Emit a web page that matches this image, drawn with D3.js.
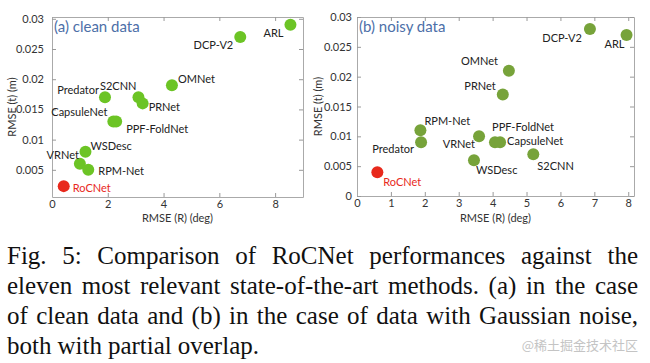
<!DOCTYPE html>
<html>
<head>
<meta charset="utf-8">
<script src="https://cdn.jsdelivr.net/npm/d3@7"></script>
<style>
  body { margin: 0; background: #fff; }
  svg { display: block; }
  .tick text { font-family: Lato, "Open Sans", sans-serif; font-size: 11px; fill: #333; }
  .tick line { stroke: #999; }
  .domain { stroke: #aaa; }
</style>
</head>
<body>
<div id="fig"></div>
<script>
// (a) clean data
var namesA = ["ARL", "DCP-V2", "OMNet", "Predator", "S2CNN", "PRNet", "CapsuleNet", "PPF-FoldNet", "WSDesc", "VRNet", "RPM-Net", "RoCNet"];
var rotA   = [8.55, 6.75, 4.3, 1.9, 3.1, 3.25, 2.2, 2.3, 1.2, 1.0, 1.3, 0.42];
var transA = [0.029, 0.027, 0.019, 0.017, 0.017, 0.016, 0.013, 0.013, 0.008, 0.006, 0.005, 0.0023];

// (b) noisy data
var namesB = ["DCP-V2", "ARL", "OMNet", "PRNet", "RPM-Net", "Predator", "PPF-FoldNet", "VRNet", "CapsuleNet", "WSDesc", "S2CNN", "RoCNet"];
var rotB   = [6.87, 7.95, 4.48, 4.3, 1.87, 1.89, 3.6, 4.07, 4.22, 3.45, 5.2, 0.6];
var transB = [0.028, 0.027, 0.021, 0.017, 0.011, 0.009, 0.01, 0.009, 0.009, 0.006, 0.007, 0.004];

// tick labels
var xTicksA = [0, 2, 4, 6, 8];
var yTicksA = [0.005, 0.01, 0.015, 0.02, 0.025, 0.03];
var xTicksB = [0, 1, 2, 3, 4, 5, 6, 7, 8];
var yTicksB = [0, 0.005, 0.01, 0.015, 0.02, 0.025, 0.03];

var caption = [
  "Fig. 5: Comparison of RoCNet performances against the",
  "eleven most relevant state-of-the-art methods. (a) in the case",
  "of clean data and (b) in the case of data with Gaussian noise,",
  "both with partial overlap."
];

// label placement [dx, dy, anchor] relative to each point
var labA = [[-7,12,"end"],[-7,12,"end"],[6,-2,"start"],[-6,-3,"end"],[-2,-7,"end"],[6,8,"start"],
            [-6,-5,"end"],[10,12,"start"],[5,-2,"start"],[-1,-5,"end"],[10,5,"start"],[9,6,"start"]];
var labB = [[-8,13,"end"],[-2,13,"end"],[-11,-6,"end"],[-7,-5,"end"],[4,-5,"start"],[-7,11,"end"],
            [13,-5,"start"],[-20,6,"end"],[7,3,"start"],[2,14,"start"],[4,16,"start"],[6,14,"start"]];

var svg = d3.select("#fig").append("svg")
  .attr("width", 650).attr("height", 363);

function panel(opt) {
  var x = d3.scaleLinear().domain(opt.xd).range([opt.x0, opt.x1]);
  var y = d3.scaleLinear().domain(opt.yd).range([opt.y1, opt.y0]);
  var g = svg.append("g");

  // box with inward ticks on all sides (matlab style)
  g.append("g").attr("transform", "translate(0," + opt.y1 + ")")
    .call(d3.axisBottom(x).tickValues(opt.xt).tickSizeInner(-4).tickSizeOuter(0).tickPadding(3).tickFormat(d3.format("d")));
  g.append("g").attr("transform", "translate(0," + opt.y0 + ")")
    .call(d3.axisTop(x).tickValues(opt.xt).tickSizeInner(-4).tickSizeOuter(0).tickFormat(""));
  g.append("g").attr("transform", "translate(" + opt.x0 + ",0)")
    .call(d3.axisLeft(y).tickValues(opt.yt).tickSizeInner(-4).tickSizeOuter(0).tickPadding(opt.ypad).tickFormat(function(d) { return String(d); }));
  g.append("g").attr("transform", "translate(" + opt.x1 + ",0)")
    .call(d3.axisRight(y).tickValues(opt.yt).tickSizeInner(-4).tickSizeOuter(0).tickFormat(""));

  // axis titles
  g.append("text")
    .attr("x", (opt.x0 + opt.x1) / 2).attr("y", 222)
    .attr("text-anchor", "middle")
    .style("font-family", "Lato, sans-serif").style("font-size", "11px").style("fill", "#333")
    .text("RMSE (R) (deg)");
  g.append("text")
    .attr("transform", "translate(" + opt.ylx + "," + ((opt.y0 + opt.y1) / 2) + ") rotate(-90)")
    .attr("text-anchor", "middle").attr("dy", "0.35em")
    .style("font-family", "Lato, sans-serif").style("font-size", "11px").style("fill", "#333")
    .text("RMSE (t) (m)");

  // panel title
  g.append("text")
    .attr("x", opt.x0 + 2).attr("y", 32)
    .style("font-family", "Lato, sans-serif").style("font-size", "15px").style("fill", "#4d6fa8")
    .text(opt.title);

  var data = opt.names.map(function(n, i) {
    return { name: n, r: opt.rot[i], t: opt.trans[i], lab: opt.lab[i] };
  });

  g.selectAll("circle").data(data).enter().append("circle")
    .attr("cx", function(d) { return x(d.r); })
    .attr("cy", function(d) { return y(d.t); })
    .attr("r", 6)
    .attr("fill", function(d) { return d.name === "RoCNet" ? "#e8291c" : opt.color; });

  g.selectAll("text.lbl").data(data).enter().append("text")
    .attr("class", "lbl")
    .attr("x", function(d) { return x(d.r) + d.lab[0]; })
    .attr("y", function(d) { return y(d.t) + d.lab[1]; })
    .attr("text-anchor", function(d) { return d.lab[2]; })
    .style("font-family", "Lato, sans-serif").style("font-size", "11px")
    .style("fill", function(d) { return d.name === "RoCNet" ? "#e8291c" : "#222"; })
    .text(function(d) { return d.name; });
}

panel({ x0: 52, x1: 303, y0: 17, y1: 197, xd: [0, 9], yd: [0.0005, 0.0303],
        xt: xTicksA, yt: yTicksA, ypad: 8, ylx: 12, title: "(a) clean data", color: "#6cc425",
        names: namesA, rot: rotA, trans: transA, lab: labA });
panel({ x0: 357, x1: 634, y0: 17, y1: 196, xd: [0, 8.17], yd: [0, 0.03],
        xt: xTicksB, yt: yTicksB, ypad: 5, ylx: 318, title: "(b) noisy data", color: "#77a33a",
        names: namesB, rot: rotB, trans: transB, lab: labB });

// caption, justified line by line
var capLeft = 7, capRight = 638;
caption.forEach(function(line, li) {
  var words = line.split(" ");
  var by = 264 + li * 30;
  var nodes = words.map(function(w) {
    return svg.append("text").attr("y", by)
      .style("font-family", "'Liberation Serif', 'Times New Roman', serif")
      .style("font-size", "25px").style("fill", "#111")
      .text(w);
  });
  var widths = nodes.map(function(n) { return n.node().getComputedTextLength(); });
  var total = d3.sum(widths);
  var last = li === caption.length - 1;
  var gap = last ? 6 : (capRight - capLeft - total) / (words.length - 1);
  var cx = capLeft;
  nodes.forEach(function(n, i) {
    n.attr("x", cx);
    cx += widths[i] + gap;
  });
});

svg.append("text")
  .attr("x", 638).attr("y", 350).attr("text-anchor", "end")
  .style("font-family", "'Noto Sans CJK SC', sans-serif").style("font-size", "13px").style("fill", "#c4c4c4")
  .text("@稀土掘金技术社区");
</script>
</body>
</html>
